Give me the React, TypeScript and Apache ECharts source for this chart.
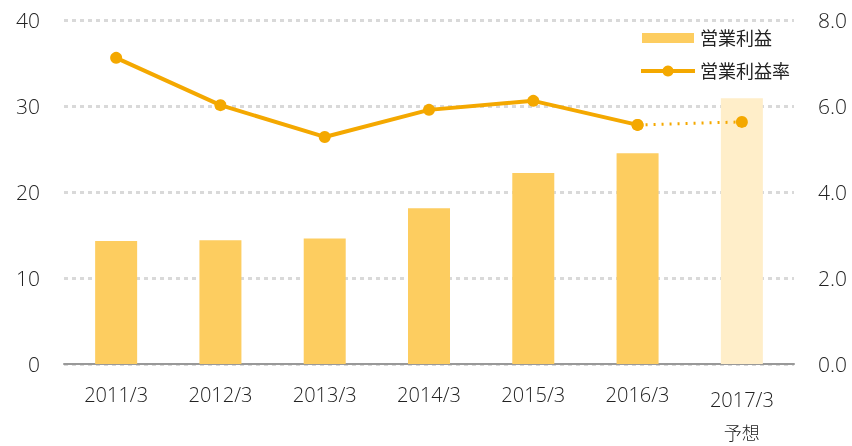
import React, { useEffect, useRef } from "react";
import * as echarts from "echarts";

const categories = ["2011/3", "2012/3", "2013/3", "2014/3", "2015/3", "2016/3", "2017/3"];
const profit = [14.3, 14.4, 14.6, 18.1, 22.2, 24.5, 30.9];
const margin = [7.12, 6.02, 5.28, 5.91, 6.12, 5.56, 5.63];
const forecastIndex = 6;
const forecastNote = "予想";

const FONT = "'Open Sans', 'Noto Sans CJK JP', sans-serif";
const BAR = "#FDCD60";
const BAR_LIGHT = "#FFEEC9";
const LINE = "#F4A800";
const TXT = "#222";

export default function App() {
  const ref = useRef<HTMLDivElement>(null);
  useEffect(() => {
    const chart = echarts.init(ref.current!, undefined, { renderer: "svg" });
    const solid = margin.map((v, i) => (i < forecastIndex ? v : null));
    const dotted = margin.map((v, i) => (i >= forecastIndex - 1 ? v : null));
    const lbl = { fontSize: 20, color: TXT, fontFamily: FONT, fontWeight: 300 };
    chart.setOption({
      animation: false,
      textStyle: { fontFamily: FONT },
      grid: { left: 64, right: 58, top: 20, bottom: 82 },
      legend: {
        orient: "vertical",
        left: 639,
        top: 29,
        padding: 0,
        itemWidth: 54,
        itemHeight: 14,
        itemGap: 15,
        textStyle: { fontSize: 18, color: TXT, fontFamily: FONT },
        data: [
          {
            name: "営業利益",
            icon: "path://M0,0 M52,14 M0,2 L52,2 L52,12 L0,12 Z",
            itemStyle: { color: BAR },
          },
          {
            name: "営業利益率",
            lineStyle: { width: 4, color: LINE },
            itemStyle: { color: LINE },
          },
        ],
      },
      xAxis: {
        type: "category",
        data: categories,
        axisLine: { lineStyle: { color: "#999", width: 2 } },
        axisTick: { show: false },
        axisLabel: {
          interval: 0,
          margin: 20,
          ...lbl,
          formatter: (v: string, i: number) =>
            i === forecastIndex ? `{a|${v}}\n{b|${forecastNote}}` : `{n|${v}}`,
          rich: {
            n: { ...lbl, lineHeight: 20 },
            a: { ...lbl, lineHeight: 30 },
            b: { ...lbl, fontSize: 18, lineHeight: 38 },
          },
        },
      },
      yAxis: [
        {
          type: "value",
          min: 0,
          max: 40,
          interval: 10,
          axisLine: { show: false },
          axisTick: { show: false },
          axisLabel: { ...lbl, fontSize: 21, margin: 24 },
          splitLine: { lineStyle: { color: "#d9d9d9", width: 3, type: [4, 4] } },
        },
        {
          type: "value",
          min: 0,
          max: 8,
          interval: 2,
          axisLine: { show: false },
          axisTick: { show: false },
          axisLabel: {
            ...lbl,
            fontSize: 21,
            margin: 24,
            formatter: (v: number) => v.toFixed(1),
          },
          splitLine: { show: false },
        },
      ],
      series: [
        {
          name: "営業利益",
          type: "bar",
          barWidth: 42,
          data: profit.map((v, i) => ({
            value: v,
            itemStyle: { color: i === forecastIndex ? BAR_LIGHT : BAR },
          })),
          itemStyle: { color: BAR },
        },
        {
          name: "営業利益率",
          type: "line",
          yAxisIndex: 1,
          data: solid,
          symbol: "circle",
          symbolSize: 12,
          lineStyle: { color: LINE, width: 4 },
          itemStyle: { color: LINE },
          z: 3,
        },
        {
          name: "営業利益率予想",
          type: "line",
          yAxisIndex: 1,
          data: dotted,
          symbol: "circle",
          symbolSize: 12,
          lineStyle: { color: LINE, width: 3, type: [2, 6] },
          itemStyle: { color: LINE },
          z: 3,
        },
      ],
    });
    return () => chart.dispose();
  }, []);
  return (
    <div
      ref={ref}
      style={{ position: "fixed", left: 0, top: 0, width: 852, height: 446 }}
    />
  );
}
